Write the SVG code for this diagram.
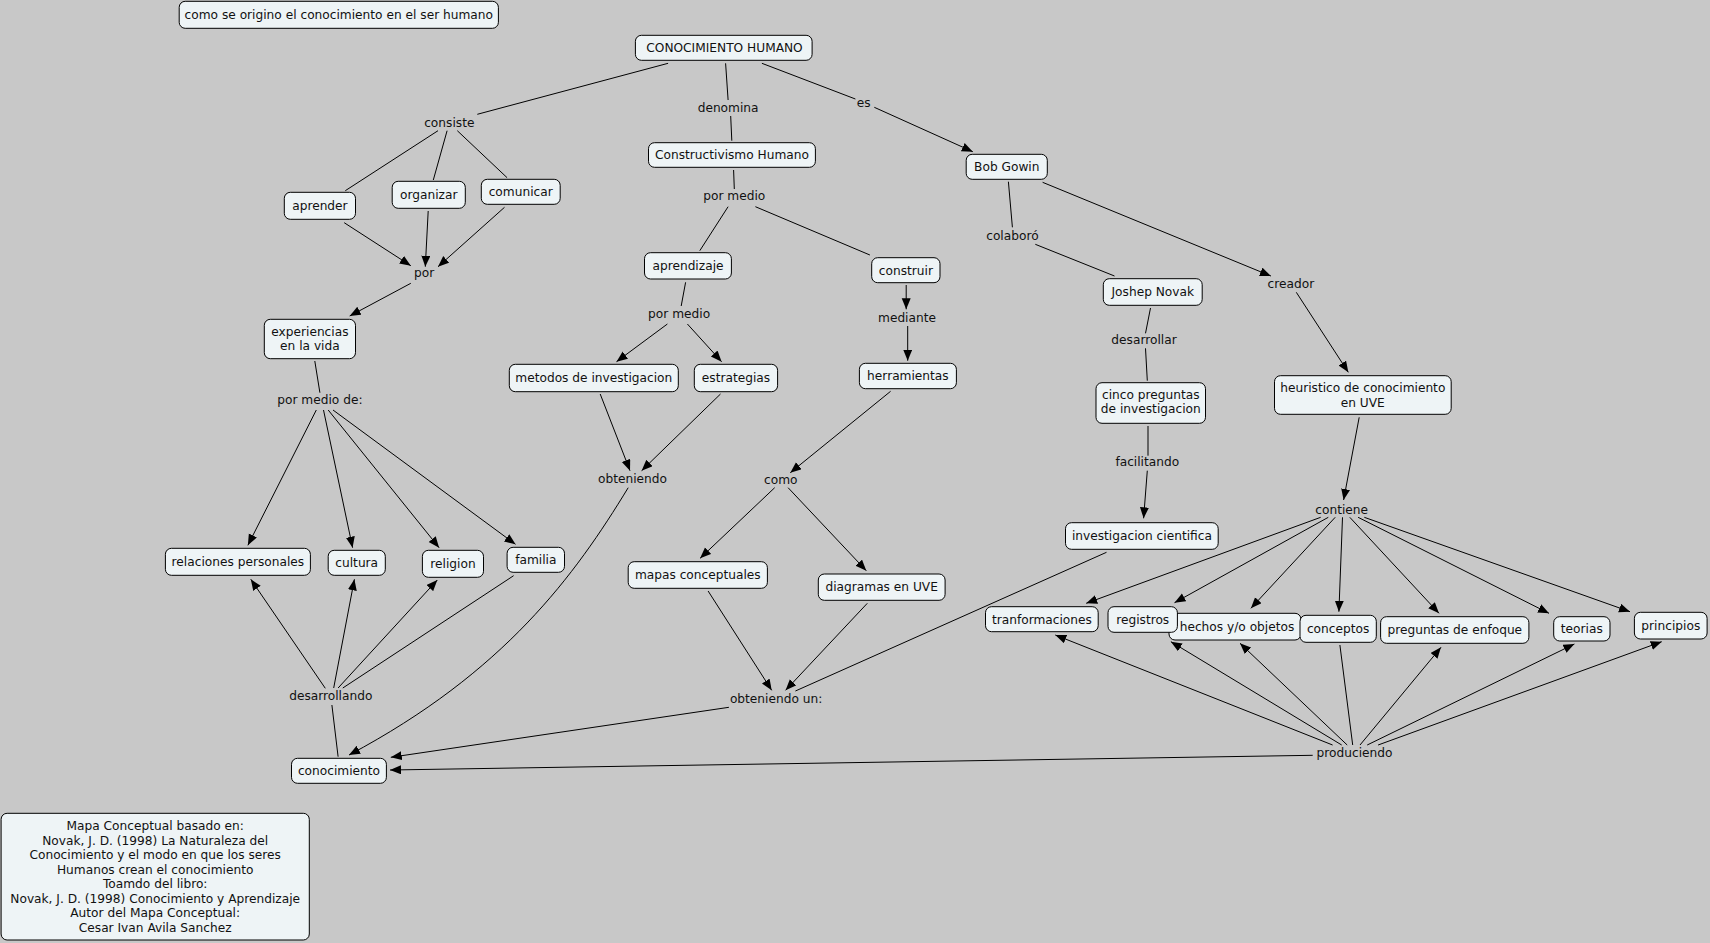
<svg xmlns="http://www.w3.org/2000/svg" width="1710" height="943" viewBox="0 0 1710 943">
<style>
.bg{fill:#c8c8c8}
.n rect{fill:#eef4f6;stroke:#000;stroke-width:1}
text{font-family:"DejaVu Sans",Verdana,sans-serif;font-size:12.2px;fill:#111;text-anchor:middle}
.e line,.e path{stroke:#000;stroke-width:1;fill:none}
.a{marker-end:url(#ah)}
</style>
<defs>
<marker id="ah" markerUnits="userSpaceOnUse" markerWidth="12" markerHeight="10" refX="11" refY="4.5" orient="auto"><path d="M0,0 L11,4.5 L0,9 z" fill="#000"/></marker>
</defs>
<rect class="bg" x="0" y="0" width="1710" height="943"/>
<g class="e" id="connectors">
<line x1="668.1" y1="63.3" x2="477.3" y2="114.3"/>
<line x1="438" y1="130.7" x2="345.3" y2="190.7"/>
<line x1="447.1" y1="130.7" x2="433.3" y2="180"/>
<line x1="457.3" y1="130.7" x2="507.1" y2="177.7"/>
<line class="a" x1="344.2" y1="222.7" x2="410.8" y2="265.7"/>
<line class="a" x1="428.2" y1="211" x2="425.3" y2="266.7"/>
<line class="a" x1="504.5" y1="207.3" x2="438" y2="266.7"/>
<line class="a" x1="410.8" y1="283.3" x2="349.7" y2="316"/>
<line x1="314.8" y1="361" x2="319.9" y2="392.7"/>
<line class="a" x1="316.3" y1="410" x2="247.9" y2="545.3"/>
<line class="a" x1="323.5" y1="410" x2="352.6" y2="547.7"/>
<line class="a" x1="328.2" y1="410" x2="439.1" y2="547.7"/>
<line class="a" x1="333" y1="410" x2="515.5" y2="544.3"/>
<line class="a" x1="325.3" y1="688.3" x2="250.8" y2="579.3"/>
<line class="a" x1="333.7" y1="688" x2="354.4" y2="579.3"/>
<line class="a" x1="338.1" y1="688" x2="437.3" y2="580"/>
<line x1="513.6" y1="575.7" x2="342.8" y2="688"/>
<line x1="331.9" y1="705" x2="338.1" y2="756.7"/>
<path class="a" d="M628.2,487.7 C575,575 505,672 349,755"/>
<line x1="725.6" y1="63.3" x2="728.1" y2="100"/>
<line x1="730.7" y1="116" x2="731.8" y2="140.7"/>
<line x1="733.6" y1="170" x2="734.3" y2="189"/>
<line x1="728.1" y1="206.7" x2="699.8" y2="250.7"/>
<line x1="755.4" y1="206.7" x2="869.9" y2="255"/>
<line class="a" x1="906.2" y1="285" x2="906.2" y2="309.3"/>
<line x1="685.6" y1="282.3" x2="681.2" y2="306"/>
<line class="a" x1="667.4" y1="324" x2="616.5" y2="361.7"/>
<line class="a" x1="687.4" y1="324" x2="721.6" y2="361.7"/>
<line class="a" x1="907.7" y1="326" x2="907.7" y2="360.7"/>
<line class="a" x1="600.2" y1="394" x2="630" y2="470.7"/>
<line class="a" x1="720.5" y1="394" x2="641.6" y2="470.7"/>
<line class="a" x1="890.6" y1="391.3" x2="790.3" y2="472.7"/>
<line class="a" x1="774.7" y1="487.7" x2="700.1" y2="558.3"/>
<line class="a" x1="788.1" y1="487.7" x2="866.3" y2="570.7"/>
<line class="a" x1="708.1" y1="591" x2="771.7" y2="690.3"/>
<line class="a" x1="867.3" y1="603.3" x2="785.6" y2="690.3"/>
<line x1="1106.5" y1="552.3" x2="795.4" y2="691"/>
<line class="a" x1="728.9" y1="707.3" x2="390.8" y2="757.3"/>
<line x1="761.9" y1="63.3" x2="855.4" y2="99"/>
<line class="a" x1="874.3" y1="107.3" x2="972.8" y2="151.7"/>
<line x1="1008.4" y1="181.7" x2="1012.4" y2="227.3"/>
<line x1="1035.3" y1="244.3" x2="1114.5" y2="276"/>
<line class="a" x1="1042.6" y1="182.3" x2="1270.9" y2="276"/>
<line class="a" x1="1296.3" y1="292.3" x2="1348.3" y2="372.3"/>
<line x1="1150.5" y1="308" x2="1145.5" y2="333.3"/>
<line x1="1145.5" y1="348.3" x2="1147.3" y2="380.7"/>
<line x1="1148" y1="426" x2="1148" y2="455.7"/>
<line class="a" x1="1147.3" y1="470.7" x2="1143.6" y2="518.3"/>
<line class="a" x1="1359.2" y1="417.3" x2="1343.6" y2="500"/>
<line class="a" x1="1320.7" y1="517.3" x2="1086.2" y2="603.3"/>
<line class="a" x1="1328.3" y1="517.3" x2="1174.5" y2="602.7"/>
<line class="a" x1="1335.2" y1="517.3" x2="1250.9" y2="608.3"/>
<line class="a" x1="1342.5" y1="517.3" x2="1338.9" y2="611.7"/>
<line class="a" x1="1349.8" y1="517.3" x2="1439" y2="613.3"/>
<line class="a" x1="1358.1" y1="517.3" x2="1549" y2="613.3"/>
<line class="a" x1="1364.3" y1="517.3" x2="1630" y2="611.7"/>
<line class="a" x1="1332.6" y1="745" x2="1055.3" y2="635"/>
<line class="a" x1="1341.7" y1="745" x2="1170.9" y2="641.7"/>
<line class="a" x1="1347.2" y1="745" x2="1240" y2="643.3"/>
<line x1="1339.9" y1="645" x2="1352.7" y2="745"/>
<line class="a" x1="1360" y1="745" x2="1441" y2="647.3"/>
<line class="a" x1="1367.2" y1="745" x2="1574.4" y2="644"/>
<line class="a" x1="1378.1" y1="745" x2="1661.7" y2="641.7"/>
<line class="a" x1="1312.7" y1="755.3" x2="390" y2="770"/>
</g>
<g id="links">
<text x="449.3" y="127">consiste</text>
<text x="424.2" y="277">por</text>
<text x="319.9" y="404.3">por medio de:</text>
<text x="330.8" y="700.3">desarrollando</text>
<text x="728.1" y="112">denomina</text>
<text x="734.3" y="200.3">por medio</text>
<text x="679.1" y="317.6">por medio</text>
<text x="632.5" y="483.3">obteniendo</text>
<text x="780.8" y="484">como</text>
<text x="907" y="321.6">mediante</text>
<text x="776.1" y="703.3">obteniendo un:</text>
<text x="863.7" y="107">es</text>
<text x="1012.4" y="240">colaboró</text>
<text x="1290.9" y="288.3">creador</text>
<text x="1144" y="344.3">desarrollar</text>
<text x="1147.3" y="466.3">facilitando</text>
<text x="1341.7" y="513.6">contiene</text>
<text x="1354.5" y="757">produciendo</text>
</g>
<g class="n" id="n-titulo"><rect x="179.2" y="1.3" width="319.2" height="27" rx="6"/><text x="338.8" y="19.1">como se origino el conocimiento en el ser humano</text></g>
<g class="n" id="n-conocimiento-humano"><rect x="635.4" y="35.3" width="176.7" height="25" rx="6"/><text x="724.5" y="52.1">CONOCIMIENTO HUMANO</text></g>
<g class="n" id="n-aprender"><rect x="284.3" y="192.3" width="71.2" height="27" rx="6"/><text x="319.9" y="210.1">aprender</text></g>
<g class="n" id="n-organizar"><rect x="392.2" y="181.3" width="73.1" height="27" rx="6"/><text x="428.7" y="199.1">organizar</text></g>
<g class="n" id="n-comunicar"><rect x="481.3" y="179.3" width="78.9" height="25" rx="6"/><text x="520.7" y="196.1">comunicar</text></g>
<g class="n" id="n-experiencias"><rect x="264.3" y="319.3" width="91.2" height="39.4" rx="6"/><text x="309.9" y="336">experiencias</text><text x="309.9" y="350.3">en la vida</text></g>
<g class="n" id="n-relaciones"><rect x="165.4" y="548.3" width="145" height="27" rx="6"/><text x="237.9" y="566.1">relaciones personales</text></g>
<g class="n" id="n-cultura"><rect x="328.2" y="550.3" width="57.1" height="25" rx="6"/><text x="356.7" y="567.1">cultura</text></g>
<g class="n" id="n-religion"><rect x="422.4" y="550.3" width="61.1" height="27" rx="6"/><text x="453" y="568.1">religion</text></g>
<g class="n" id="n-familia"><rect x="507.1" y="547.3" width="57.4" height="25" rx="6"/><text x="535.8" y="564.1">familia</text></g>
<g class="n" id="n-conocimiento"><rect x="291.5" y="758.3" width="94.9" height="25" rx="6"/><text x="339" y="775.1">conocimiento</text></g>
<g class="n" id="n-nota"><rect x="1.1" y="813.3" width="308.2" height="126.7" rx="6"/>
<text x="155.2" y="830.3">Mapa Conceptual basado en:</text>
<text x="155.2" y="844.8">Novak, J. D. (1998) La Naturaleza del</text>
<text x="155.2" y="859.3">Conocimiento y el modo en que los seres</text>
<text x="155.2" y="873.8">Humanos crean el conocimiento</text>
<text x="155.2" y="888.3">Toamdo del libro:</text>
<text x="155.2" y="902.8">Novak, J. D. (1998) Conocimiento y Aprendizaje</text>
<text x="155.2" y="917.3">Autor del Mapa Conceptual:</text>
<text x="155.2" y="931.8">Cesar Ivan Avila Sanchez</text>
</g>
<g class="n" id="n-constructivismo"><rect x="648.5" y="142.7" width="166.9" height="24.6" rx="6"/><text x="732" y="159.3">Constructivismo Humano</text></g>
<g class="n" id="n-aprendizaje"><rect x="644.5" y="252.7" width="86.9" height="26.3" rx="6"/><text x="688" y="270.1">aprendizaje</text></g>
<g class="n" id="n-construir"><rect x="871.7" y="257.7" width="68.3" height="25" rx="6"/><text x="905.9" y="274.5">construir</text></g>
<g class="n" id="n-metodos"><rect x="509.3" y="364.3" width="169" height="27.4" rx="6"/><text x="593.8" y="382.3">metodos de investigacion</text></g>
<g class="n" id="n-estrategias"><rect x="694.3" y="364.3" width="83.3" height="27.4" rx="6"/><text x="736" y="382.3">estrategias</text></g>
<g class="n" id="n-herramientas"><rect x="859.4" y="363.3" width="97" height="25.4" rx="6"/><text x="907.9" y="380.3">herramientas</text></g>
<g class="n" id="n-mapas"><rect x="628.2" y="561.7" width="139.2" height="26.6" rx="6"/><text x="697.8" y="579.3">mapas conceptuales</text></g>
<g class="n" id="n-diagramas"><rect x="818.3" y="574" width="126.8" height="26.3" rx="6"/><text x="881.7" y="591.4">diagramas en UVE</text></g>
<g class="n" id="n-bob"><rect x="966.2" y="154.3" width="81.1" height="25" rx="6"/><text x="1006.8" y="171.1">Bob Gowin</text></g>
<g class="n" id="n-joshep"><rect x="1103.3" y="278.7" width="98.9" height="26.6" rx="6"/><text x="1152.8" y="296.3">Joshep Novak</text></g>
<g class="n" id="n-cinco"><rect x="1096" y="382.7" width="109.5" height="40.6" rx="6"/><text x="1150.8" y="399">cinco preguntas</text><text x="1150.8" y="413.3">de investigacion</text></g>
<g class="n" id="n-investigacion"><rect x="1065.5" y="522.7" width="152.7" height="26.6" rx="6"/><text x="1141.9" y="540.3">investigacion cientifica</text></g>
<g class="n" id="n-heuristico"><rect x="1274.5" y="375.7" width="176.7" height="38.6" rx="6"/><text x="1362.8" y="392.3">heuristico de conocimiento</text><text x="1362.8" y="406.6">en UVE</text></g>
<g class="n" id="n-tranformaciones"><rect x="985.5" y="606.7" width="112.7" height="25" rx="6"/><text x="1041.9" y="623.5">tranformaciones</text></g>
<g class="n" id="n-hechos"><rect x="1169" y="613.3" width="132" height="26.7" rx="6"/><text x="1237" y="631">hechos y/o objetos</text></g>
<g class="n" id="n-registros"><rect x="1108" y="606.7" width="69.4" height="25.6" rx="6"/><text x="1142.7" y="623.8">registros</text></g>
<g class="n" id="n-conceptos"><rect x="1300" y="615.3" width="76.3" height="27" rx="6"/><text x="1338.1" y="633.1">conceptos</text></g>
<g class="n" id="n-preguntas"><rect x="1380.6" y="616.7" width="148.3" height="26.6" rx="6"/><text x="1454.8" y="634.3">preguntas de enfoque</text></g>
<g class="n" id="n-teorias"><rect x="1553.7" y="616.7" width="56.3" height="24.3" rx="6"/><text x="1581.8" y="633.1">teorias</text></g>
<g class="n" id="n-principios"><rect x="1634.4" y="612.3" width="72.7" height="26.7" rx="6"/><text x="1670.8" y="630">principios</text></g>
</svg>
